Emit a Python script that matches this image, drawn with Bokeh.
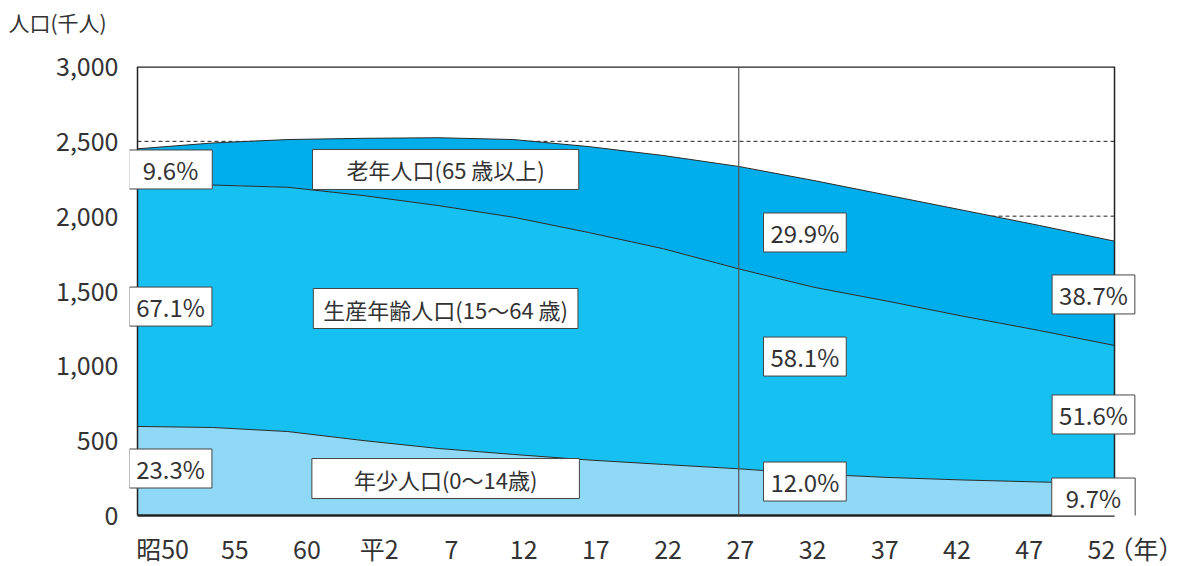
import numpy as np
from bokeh.plotting import figure
from bokeh.models import ColumnDataSource, Span, Label, FixedTicker, NumeralTickFormatter, Title
from bokeh.embed import file_html
from bokeh.resources import INLINE

# ---------------- data ----------------
categories = ["昭50", "55", "60", "平2", "7", "12", "17", "22", "27", "32", "37", "42", "47", "52"]
young = [595, 588, 561, 501, 448, 408, 371, 341, 312, 277, 254, 237, 224, 214]
working = [1621, 1620, 1632, 1637, 1623, 1585, 1520, 1441, 1336, 1248, 1176, 1093, 1012, 922]
elderly = [234, 281, 319, 382, 453, 519, 574, 623, 684, 713, 708, 708, 702, 697]

series_names = ["年少人口(0〜14歳)", "生産年齢人口(15〜64 歳)", "老年人口(65 歳以上)"]
pct_first = ["23.3%", "67.1%", "9.6%"]
pct_27 = ["12.0%", "58.1%", "29.9%"]
pct_last = ["9.7%", "51.6%", "38.7%"]
y_ticks = [0, 500, 1000, 1500, 2000, 2500, 3000]
divider_year = "27"
y_title = "人口(千人)"
x_unit = "（年）"

FONT = "Noto Sans CJK JP"
TXT = "#333333"
colors = ["#8fd8f6", "#16c1f1", "#00aeeb"]

n = len(categories)
last = n - 1
x = list(range(n))
src = ColumnDataSource(dict(x=x, young=young, working=working, elderly=elderly))

p = figure(frame_width=1051, frame_height=449,
           min_border_left=129, min_border_right=3, min_border_top=66, min_border_bottom=49,
           x_range=(-0.1065, 13.878), y_range=(0, 3000),
           output_backend="svg", toolbar_location=None)
p.background_fill_color = "white"
p.border_fill_color = "white"
p.outline_line_color = None

# dashed grid lines (under the areas); the top one is the frame border
grid_y = y_ticks[:-1]
p.segment(x0=[0] * len(grid_y), x1=[last] * len(grid_y), y0=grid_y, y1=grid_y,
          line_color="#222222", line_dash="4 3", line_width=1, level="underlay")

p.varea_stack(["young", "working", "elderly"], x="x", color=colors, source=src)
p.vline_stack(["young", "working", "elderly"], x="x", color="#2a2a2a", line_width=1, source=src)

# frame borders
p.segment(x0=[0], x1=[last], y0=[y_ticks[-1]], y1=[y_ticks[-1]], line_color="#222222", line_width=2.5)
p.add_layout(Span(location=0, dimension="height", line_color="#222222", line_width=1.5))
p.add_layout(Span(location=last, dimension="height", line_color="#222222", line_width=1.5))
p.add_layout(Span(location=categories.index(divider_year), dimension="height",
                  line_color="#555555", line_width=1.2))

p.xgrid.visible = False
p.ygrid.visible = False

# axes
p.yaxis.ticker = FixedTicker(ticks=y_ticks)
p.yaxis.formatter = NumeralTickFormatter(format="0,0")
p.yaxis.major_tick_line_color = None
p.yaxis.minor_tick_line_color = None
p.yaxis.major_tick_out = 0
p.yaxis.axis_line_color = None
p.yaxis.major_label_standoff = 11
p.yaxis.major_label_text_font = FONT
p.yaxis.major_label_text_font_size = "25px"
p.yaxis.major_label_text_color = TXT

tick_pos = [round(0.333 + 0.961 * i, 4) for i in range(n)]
unit_pos = 13.51
p.xaxis.ticker = FixedTicker(ticks=tick_pos + [unit_pos])
ov = {t: c for t, c in zip(tick_pos, categories)}
ov[unit_pos] = x_unit
p.xaxis.major_label_overrides = ov
p.xaxis.bounds = (0, last)
p.xaxis.major_tick_line_color = None
p.xaxis.minor_tick_line_color = None
p.xaxis.major_tick_out = 0
p.xaxis.axis_line_color = "#222222"
p.xaxis.axis_line_width = 2.5
p.xaxis.major_label_standoff = 14
p.xaxis.major_label_text_font = FONT
p.xaxis.major_label_text_font_size = "25px"
p.xaxis.major_label_text_color = TXT


def box_label(xx, yy, text, padx, pady, size):
    p.add_layout(Label(x=xx, y=yy, text=text, text_align="center", text_baseline="middle",
                       text_font=FONT, text_font_size=size, text_color=TXT,
                       background_fill_color="white", border_line_color="#444444",
                       border_line_width=1,
                       padding=dict(left=padx, right=padx, top=pady, bottom=pady)))


# percentage labels
col_x = [0.44, 8.88, 12.72]
col_y = [[314, 1396, 2312], [227, 1062, 1891], [120, 675, 1477]]
for cx, ys, texts in zip(col_x, col_y, [pct_first, pct_27, pct_last]):
    for yy, t in zip(ys, texts):
        padx = 14 if len(t) <= 4 else 7
        box_label(cx, yy, t, padx, 2, "24px")

# series name labels
name_y = [247, 1383, 2312]
name_pad = [42, 10, 34]
for yy, t, px in zip(name_y, series_names, name_pad):
    box_label(4.10, yy, t, px, 4, "22px")

# y-axis title at top-left (blank second line lifts it above the frame)
p.add_layout(Title(text=y_title + "\n", align="left", offset=-121, standoff=0,
                   vertical_align="bottom",
                   text_font=FONT, text_font_size="21px", text_color=TXT,
                   text_font_style="normal"), "above")

open("out.html", "w").write(file_html(p, INLINE))
